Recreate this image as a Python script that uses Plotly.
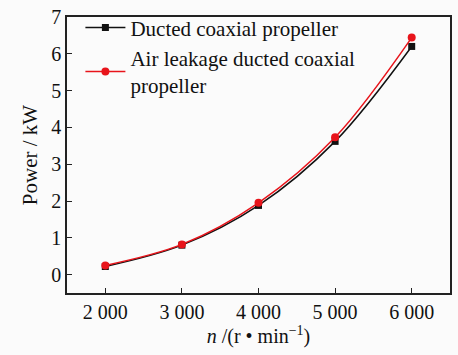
import plotly.graph_objects as go

speed = [2000, 3000, 4000, 5000, 6000]
power_ducted = [0.22, 0.80, 1.88, 3.62, 6.20]
power_leak = [0.25, 0.82, 1.95, 3.73, 6.44]
tick_vals = [2000, 3000, 4000, 5000, 6000]
tick_text = ["2 000", "3 000", "4 000", "5 000", "6 000"]

font = "Liberation Serif"

fig = go.Figure()
fig.add_trace(go.Scatter(x=speed, y=power_ducted, mode="lines+markers",
                         name="Ducted coaxial propeller",
                         line=dict(color="#111", width=1.5, shape="spline"),
                         marker=dict(symbol="square", size=7, color="#111")))
fig.add_trace(go.Scatter(x=speed, y=power_leak, mode="lines+markers",
                         name="Air leakage ducted coaxial<br>propeller",
                         line=dict(color="#e8141b", width=1.5, shape="spline"),
                         marker=dict(symbol="circle", size=8, color="#e8141b")))

axis_common = dict(showline=True, linecolor="#222", linewidth=1.5, mirror=True,
                   ticks="inside", ticklen=5, tickcolor="#222", showgrid=False,
                   zeroline=False, tickfont=dict(family=font, size=20, color="#111"))

fig.update_layout(
    width=458, height=355,
    margin=dict(l=67, r=6, t=12, b=62),
    paper_bgcolor="#fbfbfb", plot_bgcolor="#fbfbfb",
    font=dict(family=font, size=20, color="#111"),
    xaxis=dict(range=[1500, 6500], tickvals=tick_vals, ticktext=tick_text,
               title=dict(text="<i>n</i> /(r • min<sup>−1</sup>)", standoff=2,
                          font=dict(family=font, size=20)),
               **axis_common),
    yaxis=dict(range=[-0.5, 7], dtick=1,
               title=dict(text="Power / kW", standoff=8,
                          font=dict(family=font, size=21)),
               **axis_common),
    legend=dict(x=0.035, y=1.035, xanchor="left", yanchor="top",
                bgcolor="rgba(0,0,0,0)", font=dict(family=font, size=21),
                tracegroupgap=0, itemwidth=40),
    showlegend=True,
)

fig.write_html("out.html")
